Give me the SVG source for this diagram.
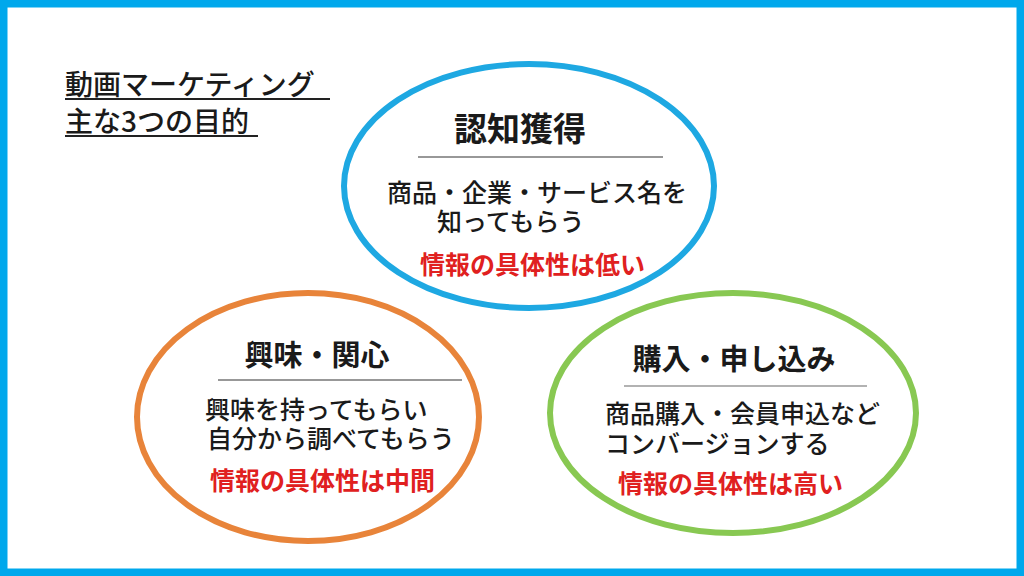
<svg xmlns="http://www.w3.org/2000/svg" width="1024" height="576" viewBox="0 0 1024 576">
<style>
text{font-family:"Noto Sans CJK JP","Noto Sans CJK SC",sans-serif;fill:#1a1a1a}
.ttl{font-size:28px;font-weight:500}
.hd{font-size:29px;font-weight:bold;text-anchor:middle}
.bd{font-size:25px;font-weight:500}
.rd{font-size:25px;font-weight:bold;fill:#e02020}
.el{fill:none;stroke-width:6}
.sep{stroke:#333;stroke-width:1.2}
</style>
<rect x="0" y="0" width="1024" height="576" fill="#fff"/>
<rect x="3.5" y="3.5" width="1017" height="569" fill="none" stroke="#00a8ec" stroke-width="8"/>
<g id="title">
<text class="ttl" x="65" y="95">動画マーケティング</text>
<text class="ttl" x="65" y="132">主な3つの目的</text>
<line x1="65" y1="99" x2="330" y2="99" stroke="#222" stroke-width="2"/>
<line x1="65" y1="136" x2="258" y2="136" stroke="#222" stroke-width="2"/>
</g>
<g id="node-awareness">
<ellipse class="el" cx="529" cy="186" rx="185" ry="122" stroke="#1ea8e2"/>
<text class="hd" x="520" y="141" style="font-size:33px">認知獲得</text>
<line class="sep" x1="418" y1="157" x2="663" y2="157"/>
<text class="bd" x="387" y="202">商品・企業・サービス名を</text>
<text class="bd" x="437" y="231">知ってもらう</text>
<text class="rd" x="420" y="274">情報の具体性は低い</text>
</g>
<g id="node-interest">
<ellipse class="el" cx="308" cy="417" rx="171" ry="124" stroke="#e8843a"/>
<text class="hd" x="317" y="366">興味・関心</text>
<line class="sep" x1="218" y1="380" x2="462" y2="380"/>
<text class="bd" x="205" y="419">興味を持ってもらい</text>
<text class="bd" x="207" y="448">自分から調べてもらう</text>
<text class="rd" x="210" y="490">情報の具体性は中間</text>
</g>
<g id="node-purchase">
<ellipse class="el" cx="733" cy="413" rx="183" ry="120" stroke="#88c852"/>
<text class="hd" x="734" y="370">購入・申し込み</text>
<line x1="624" y1="386" x2="867" y2="386" stroke="#999" stroke-width="1.5"/>
<text class="bd" x="605" y="423">商品購入・会員申込など</text>
<text class="bd" x="605" y="453">コンバージョンする</text>
<text class="rd" x="618" y="493">情報の具体性は高い</text>
</g>
<g id="connectors"></g>
</svg>
